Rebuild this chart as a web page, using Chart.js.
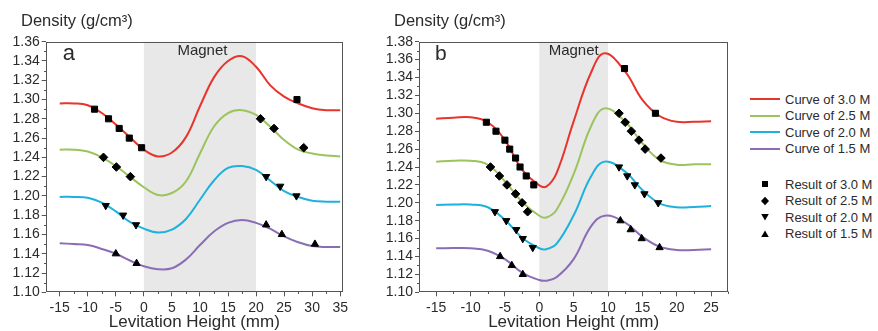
<!DOCTYPE html>
<html><head><meta charset="utf-8">
<script src="https://cdn.jsdelivr.net/npm/chart.js@4/dist/chart.umd.min.js"></script>
<style>
html,body{margin:0;padding:0;background:#fff;width:878px;height:331px;overflow:hidden;font-family:'Liberation Sans',Arial,sans-serif;color:#2b2b2b}
canvas{position:absolute;top:0}
#ca{left:0}
#cb{left:370px}
.yt{position:absolute;top:12px;font-size:16.5px;line-height:16.5px;white-space:nowrap}
.lgt{position:absolute;left:785px;font-size:13px;line-height:13px;white-space:nowrap}
.lgl{position:absolute;left:750px;width:30px;height:2px}
.lgm{position:absolute;left:760px;width:10px;height:10px}
</style></head>
<body>
<canvas id="ca" width="370" height="331"></canvas>
<canvas id="cb" width="380" height="331"></canvas>
<div class="yt" style="left:21px">Density (g/cm³)</div>
<div class="yt" style="left:394px">Density (g/cm³)</div>
<div id="legend"></div>
<script>
// ---------- data ----------
const xTicksA = [-15,-10,-5,0,5,10,15,20,25,30,35];
const yTicksA = [1.10,1.12,1.14,1.16,1.18,1.20,1.22,1.24,1.26,1.28,1.30,1.32,1.34,1.36];
const xTicksB = [-15,-10,-5,0,5,10,15,20,25];
const yTicksB = [1.10,1.12,1.14,1.16,1.18,1.20,1.22,1.24,1.26,1.28,1.30,1.32,1.34,1.36,1.38];

// panel a fitted curves
const curveXA = [-15,-12.5,-10,-7.5,-5,-2.5,0,2.5,5,7.5,10,12.5,15,17.5,20,22.5,25,27.5,30,32.5,35];
const curveA30 = [1.296,1.296,1.294,1.286,1.274,1.261,1.248,1.241,1.245,1.261,1.293,1.323,1.340,1.345,1.334,1.315,1.303,1.296,1.291,1.289,1.289];
const curveA25 = [1.248,1.248,1.246,1.240,1.231,1.220,1.209,1.201,1.203,1.215,1.244,1.272,1.286,1.289,1.284,1.272,1.258,1.248,1.244,1.242,1.241];
const curveA20 = [1.199,1.199,1.198,1.193,1.184,1.173,1.166,1.162,1.165,1.176,1.196,1.216,1.229,1.231,1.227,1.216,1.205,1.199,1.195,1.194,1.194];
const curveA15 = [1.151,1.150,1.149,1.145,1.140,1.133,1.127,1.124,1.125,1.134,1.149,1.163,1.172,1.175,1.172,1.166,1.158,1.152,1.148,1.147,1.147];

// panel a measured results
const resA30x = [-8.8,-6.3,-4.4,-2.6,-0.4,27.3];
const resA30y = [1.29,1.28,1.27,1.26,1.25,1.30];
const resA25x = [-7.2,-4.9,-2.4,20.8,23.2,28.5];
const resA25y = [1.24,1.23,1.22,1.28,1.27,1.25];
const resA20x = [-6.8,-3.7,-1.4,21.8,24.3,27.2];
const resA20y = [1.19,1.18,1.17,1.22,1.21,1.20];
const resA15x = [-5.0,-1.3,21.8,24.6,30.5];
const resA15y = [1.14,1.13,1.17,1.16,1.15];

// panel b fitted curves
const curveXB = [-15,-12.5,-10,-7.5,-5,-2.5,0,1,2.5,5,7.5,9.5,12.5,15,17.5,20,22.5,25];
const curveB30 = [1.294,1.295,1.2955,1.290,1.270,1.237,1.2195,1.218,1.233,1.291,1.345,1.367,1.3465,1.315,1.297,1.2905,1.2905,1.291];
const curveB25 = [1.246,1.247,1.247,1.2425,1.224,1.201,1.1855,1.1835,1.192,1.232,1.285,1.3055,1.2906,1.2665,1.248,1.2425,1.243,1.2432];
const curveB20 = [1.1975,1.198,1.198,1.195,1.181,1.161,1.1492,1.148,1.154,1.186,1.229,1.246,1.2348,1.2143,1.1994,1.195,1.1953,1.1964];
const curveB15 = [1.1492,1.1494,1.1493,1.1465,1.137,1.122,1.1137,1.113,1.1168,1.137,1.1733,1.1856,1.1778,1.1621,1.151,1.1473,1.1473,1.148];

// panel b measured results
const resB30x = [-7.7,-6.3,-5.0,-4.3,-3.45,-2.8,-1.9,-0.8,12.4,16.9];
const resB30y = [1.29,1.28,1.27,1.26,1.25,1.24,1.23,1.22,1.35,1.30];
const resB25x = [-7.1,-5.8,-4.7,-3.45,-2.5,-1.7,11.6,12.5,13.4,14.5,15.4,17.7];
const resB25y = [1.24,1.23,1.22,1.21,1.20,1.19,1.30,1.29,1.28,1.27,1.26,1.25];
const resB20x = [-6.45,-4.8,-3.35,-2.4,-0.95,11.6,12.8,13.9,15.3,17.3];
const resB20y = [1.19,1.18,1.17,1.16,1.15,1.24,1.23,1.22,1.21,1.20];
const resB15x = [-5.7,-4.0,-2.4,11.8,13.3,14.9,17.5];
const resB15y = [1.14,1.13,1.12,1.18,1.17,1.16,1.15];

const curveLabels = ['Curve of 3.0 M','Curve of 2.5 M','Curve of 2.0 M','Curve of 1.5 M'];
const resultLabels = ['Result of 3.0 M','Result of 2.5 M','Result of 2.0 M','Result of 1.5 M'];

// ---------- styling ----------
const COLORS = ['#e8342c','#9dc35c','#1fb1dc','#8b6db5'];
const FONT = "'Liberation Sans', Arial, sans-serif";
const TXT = '#2b2b2b';
const AXC = '#555555';

function pts(xs, ys){ return xs.map((x,i)=>({x:x, y:ys[i]})); }
function curveDs(xs, ys, color){
  return {type:'line', data:pts(xs,ys), borderColor:color, borderWidth:2, pointRadius:0,
          fill:false, cubicInterpolationMode:'default', tension:0.4, order:2};
}
function markDs(xs, ys, style, rot, r){
  return {type:'line', data:pts(xs,ys), showLine:false, pointStyle:style, pointRotation:rot,
          pointRadius:r, pointHoverRadius:r, backgroundColor:'#000', borderColor:'#000',
          pointBackgroundColor:'#000', pointBorderColor:'#000', borderWidth:1, order:1};
}

const deco = {
  id:'deco',
  beforeDatasetsDraw(chart, args, o){
    const ctx = chart.ctx, ca = chart.chartArea, x = chart.scales.x;
    const x0 = x.getPixelForValue(o.band[0]), x1 = x.getPixelForValue(o.band[1]);
    ctx.save();
    ctx.fillStyle = '#e8e8e8';
    ctx.fillRect(x0, ca.top, x1-x0, ca.bottom-ca.top);
    ctx.fillStyle = TXT;
    ctx.font = '15px ' + FONT;
    ctx.textAlign = 'center';
    ctx.textBaseline = 'alphabetic';
    ctx.fillText('Magnet', (x0+x1)/2 + o.magDx, ca.top + 13.5);
    ctx.font = o.letterSize + 'px ' + FONT;
    ctx.textAlign = 'left';
    ctx.fillText(o.letter, ca.left + o.letterDx, ca.top + 18.5);
    ctx.restore();
  },
  afterDraw(chart, args, o){
    const ctx = chart.ctx, ca = chart.chartArea, xs = chart.scales.x, ys = chart.scales.y;
    ctx.save();
    ctx.strokeStyle = AXC;
    ctx.lineWidth = 1;
    const L = Math.round(ca.left)+0.5, R = Math.round(ca.right)-0.5,
          T = Math.round(ca.top)+0.5, B = Math.round(ca.bottom)-0.5;
    ctx.strokeRect(L, T, R-L, B-T);
    ctx.beginPath();
    for (let v = o.xMinorStart; v <= xs.max; v += 5) {
      const p = Math.round(xs.getPixelForValue(v)) + 0.5;
      ctx.moveTo(p, B); ctx.lineTo(p, B + 2.5);
    }
    for (let k = 0; ; k++) {
      const v = ys.min + 0.01 + 0.02*k;
      if (v > ys.max) break;
      const p = Math.round(ys.getPixelForValue(v)) + 0.5;
      ctx.moveTo(L, p); ctx.lineTo(L - 2.5, p);
    }
    ctx.stroke();
    ctx.restore();
  }
};

function makeChart(id, cfg){
  const datasets = [
    markDs(cfg.r30x, cfg.r30y, 'rect', 0, 4.3),
    markDs(cfg.r25x, cfg.r25y, 'rectRot', 0, 4.3),
    markDs(cfg.r20x, cfg.r20y, 'triangle', 180, 4.2),
    markDs(cfg.r15x, cfg.r15y, 'triangle', 0, 4.2),
    curveDs(cfg.cx, cfg.c30, COLORS[0]),
    curveDs(cfg.cx, cfg.c25, COLORS[1]),
    curveDs(cfg.cx, cfg.c20, COLORS[2]),
    curveDs(cfg.cx, cfg.c15, COLORS[3])
  ];
  return new Chart(document.getElementById(id), {
    type:'line',
    data:{datasets:datasets},
    plugins:[deco],
    options:{
      responsive:false, animation:false, events:[],
      layout:{padding:{left:0, right:cfg.padRight, top:41.7, bottom:0}},
      plugins:{legend:{display:false}, tooltip:{enabled:false},
        deco:{band:cfg.band, letter:cfg.letter, letterSize:cfg.letterSize, letterDx:cfg.letterDx,
              magDx:cfg.magDx, xMinorStart:cfg.xMinorStart}},
      scales:{
        x:{type:'linear', min:cfg.xmin, max:cfg.xmax,
          afterBuildTicks:s=>{ s.ticks = cfg.xt.map(v=>({value:v})); },
          afterFit:s=>{ s.height = 38.7; },
          grid:{drawOnChartArea:false, drawTicks:true, tickLength:4, color:AXC, tickColor:AXC},
          border:{display:false},
          ticks:{font:{size:14, family:FONT}, color:TXT, padding:3, maxRotation:0, autoSkip:false,
                 callback:v=>String(v)},
          title:{display:true, text:'Levitation Height (mm)', color:TXT, padding:0,
                 font:{size:17, family:FONT, lineHeight:1}}
        },
        y:{type:'linear', min:cfg.ymin, max:cfg.ymax,
          afterBuildTicks:s=>{ s.ticks = cfg.yt.map(v=>({value:v})); },
          afterFit:s=>{ s.width = cfg.yw; },
          grid:{drawOnChartArea:false, drawTicks:true, tickLength:4, color:AXC, tickColor:AXC},
          border:{display:false},
          ticks:{font:{size:14, family:FONT}, color:TXT, padding:2, autoSkip:false,
                 callback:v=>Number(v).toFixed(2)}
        }
      }
    }
  });
}

makeChart('ca', {cx:curveXA, c30:curveA30, c25:curveA25, c20:curveA20, c15:curveA15,
  r30x:resA30x, r30y:resA30y, r25x:resA25x, r25y:resA25y, r20x:resA20x, r20y:resA20y, r15x:resA15x, r15y:resA15y,
  xt:xTicksA, yt:yTicksA, xmin:-17.5, xmax:35.5, ymin:1.10, ymax:1.36, yw:45.7, padRight:27,
  band:[0,20], letter:'a', letterSize:22, letterDx:17, magDx:2.5, xMinorStart:-12.5});
makeChart('cb', {cx:curveXB, c30:curveB30, c25:curveB25, c20:curveB20, c15:curveB15,
  r30x:resB30x, r30y:resB30y, r25x:resB25x, r25y:resB25y, r20x:resB20x, r20y:resB20y, r15x:resB15x, r15y:resB15y,
  xt:xTicksB, yt:yTicksB, xmin:-17.5, xmax:27.5, ymin:1.10, ymax:1.38, yw:49, padRight:21.7,
  band:[0,10], letter:'b', letterSize:21, letterDx:16, magDx:0, xMinorStart:-12.5});

// ---------- legend ----------
const lg = document.getElementById('legend');
const curveRowY = [99,115.5,132,148.5];
const resRowY = [184,200.5,217,233.5];
const markerSvg = [
  '<svg class="lgm" viewBox="0 0 10 10"><rect x="2" y="2" width="6" height="6" fill="#000"/></svg>',
  '<svg class="lgm" viewBox="0 0 10 10"><polygon points="5,0.8 9,5 5,9.2 1,5" fill="#000"/></svg>',
  '<svg class="lgm" viewBox="0 0 10 10"><polygon points="1.2,2 8.8,2 5,8.5" fill="#000"/></svg>',
  '<svg class="lgm" viewBox="0 0 10 10"><polygon points="1.2,8 8.8,8 5,1.5" fill="#000"/></svg>'
];
let html = '';
curveLabels.forEach((t,i)=>{
  const c = curveRowY[i];
  html += '<div class="lgl" style="top:'+(c-1)+'px;background:'+COLORS[i]+'"></div>';
  html += '<div class="lgt" style="top:'+(c-6.5)+'px">'+t+'</div>';
});
resultLabels.forEach((t,i)=>{
  const c = resRowY[i];
  html += markerSvg[i].replace('class="lgm"', 'class="lgm" style="top:'+(c-5)+'px"');
  html += '<div class="lgt" style="top:'+(c-6.5)+'px">'+t+'</div>';
});
lg.innerHTML = html;
</script>
</body></html>
